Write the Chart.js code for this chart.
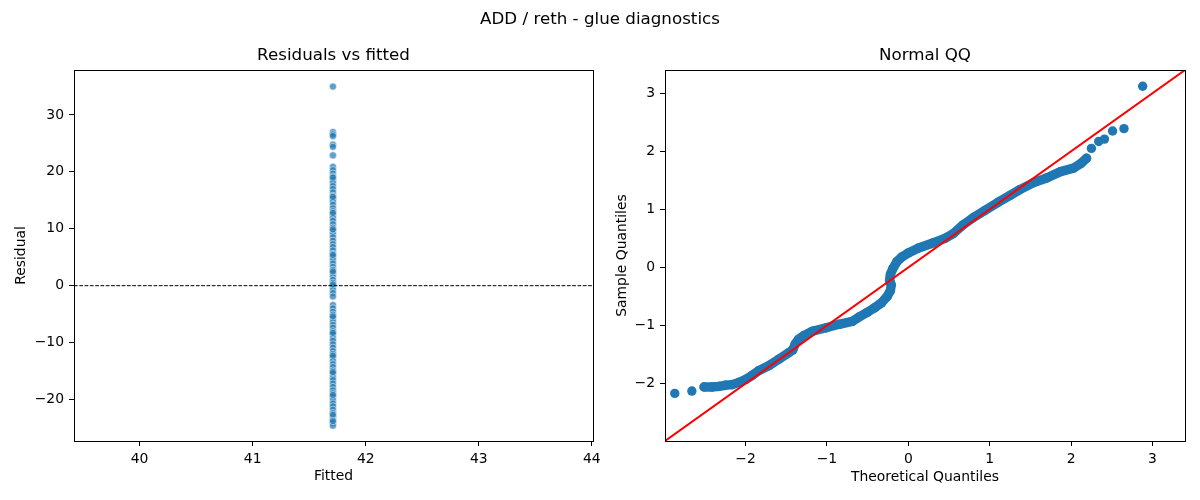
<!DOCTYPE html>
<html>
<head>
<meta charset="utf-8">
<script src="https://cdn.jsdelivr.net/npm/chart.js@4.4.1/dist/chart.umd.min.js"></script>
<style>
  body { margin: 0; background: #fff; }
  #wrap { position: relative; width: 1200px; height: 500px; font-family: "DejaVu Sans", sans-serif; }
  #suptitle { position: absolute; left: 0; top: 8px; width: 1200px; text-align: center; font-size: 16.7px; line-height: 20px; color: #000; }
  #left { position: absolute; left: 0; top: 0; }
  #right { position: absolute; left: 600px; top: 0; }
</style>
</head>
<body>
<div id="wrap">
  <canvas id="left" width="620" height="500"></canvas>
  <canvas id="right" width="600" height="500"></canvas>
  <div id="suptitle">ADD / reth - glue diagnostics</div>
</div>
<script>
// Residuals vs fitted: every row has the same fitted value
const fittedValue = 41.71;
const residuals = [
    35.0, 27.0, 26.6, 26.3, 24.8, 24.4, 22.9, 20.9, 20.3, 19.7, 19.2, 18.6, 18.1, 17.5, 17.0, 16.4,
    15.8, 15.3, 14.8, 14.2, 13.6, 13.1, 12.5, 12.0, 11.4, 10.8, 10.2, 9.6, 9.1, 8.5, 7.9, 7.3, 6.8,
    6.2, 5.6, 5.1, 4.5, 3.9, 3.3, 2.8, 2.2, 1.6, 1.0, 0.5, -0.1, -0.7, -1.3, -1.9,
    -3.4, -4.0, -4.6, -5.1, -5.7, -6.3, -6.9, -7.4, -8.0, -8.6, -9.2, -9.7, -10.3, -10.9, -11.5,
    -12.0, -12.6, -13.2, -13.8, -14.3, -14.9, -15.5, -16.1, -16.6, -17.2, -17.8, -18.4, -18.9,
    -19.5, -20.1, -20.7, -21.2, -21.8, -22.4, -23.0, -23.5, -24.1, -24.6,
    19.0, 15.6, 12.8, 9.9, 5.4, 2.5, 0.2, -5.4, -8.3, -12.3, -15.2, -19.2, -22.7, -23.8
];
const fittedRange = [39.42, 44.01];
const residualRange = [-27.3, 37.9];
const zeroLevel = 0;

// Normal QQ (theoretical vs sample quantiles)
const theoretical = [
    -2.87, -2.66, -2.51, -2.41, -2.33, -2.25, -2.17, -2.08, -2.00, -1.92, -1.84, -1.71, -1.59,
    -1.47, -1.42, -1.39, -1.35, -1.28, -1.18, -1.01, -0.85, -0.69, -0.60, -0.50, -0.42, -0.33,
    -0.26, -0.22, -0.21, -0.23, -0.22, -0.19, -0.14, -0.08, 0.00, 0.12, 0.30, 0.45, 0.55, 0.67,
    0.80, 0.94, 1.10, 1.25, 1.37, 1.54, 1.70, 1.87, 2.03, 2.12, 2.19,
    2.25, 2.34, 2.41, 2.51, 2.65, 2.88
];
const sample = [
    -2.17, -2.13, -2.06, -2.06, -2.05, -2.03, -2.02, -1.98, -1.93, -1.86, -1.78, -1.69, -1.58,
    -1.47, -1.42, -1.32, -1.24, -1.17, -1.10, -1.04, -0.98, -0.93, -0.85, -0.77, -0.70, -0.61,
    -0.50, -0.40, -0.30, -0.22, -0.12, -0.02, 0.10, 0.18, 0.25, 0.33, 0.42, 0.50, 0.58, 0.73,
    0.86, 0.98, 1.12, 1.24, 1.34, 1.46, 1.54, 1.65, 1.71, 1.79, 1.88,
    2.05, 2.17, 2.21, 2.35, 2.39, 3.12
];
const qqRange = [-2.99, 3.40];
// how many points at each end stand apart from the dense band
const looseLow = 2;
const looseHigh = 6;

const mplBlue = '#1f77b4';
Chart.defaults.font.family = '"DejaVu Sans", sans-serif';
Chart.defaults.color = '#000';

function minusSign(v) {
    return String(v).replace('-', '\u2212');
}

// full box round the plot area, like matplotlib spines
const frame = {
    id: 'frame',
    afterDraw(chart) {
        const a = chart.chartArea;
        const c = chart.ctx;
        c.save();
        c.strokeStyle = '#000';
        c.lineWidth = 1;
        c.strokeRect(Math.round(a.left) + 0.5, Math.round(a.top) + 0.5,
            Math.round(a.right - a.left), Math.round(a.bottom - a.top));
        c.restore();
    }
};

function makeAxis(range, step, label, isX, titlePad, fitSize) {
    return {
        type: 'linear',
        min: range[0],
        max: range[1],
        border: { display: false },
        grid: { drawOnChartArea: false, drawTicks: true, tickLength: 5, color: '#000', lineWidth: 1 },
        ticks: { stepSize: step, includeBounds: false, padding: 5, font: { size: 13.9 }, callback: minusSign },
        title: {
            display: true,
            text: label,
            font: { size: 13.9 },
            padding: isX ? { top: 0, bottom: titlePad } : { top: titlePad, bottom: 0 }
        },
        afterFit: s => { if (isX) { s.height = fitSize; } else { s.width = fitSize; } }
    };
}

function titleOpts(text) {
    return {
        display: true,
        text: text,
        fullSize: false,
        font: { size: 16.7, weight: 'normal' },
        padding: { top: 46, bottom: 4 }
    };
}

// Residuals vs fitted
new Chart(document.getElementById('left').getContext('2d'), {
    type: 'scatter',
    data: {
        datasets: [{
            data: [{ x: fittedRange[0], y: zeroLevel }, { x: fittedRange[1], y: zeroLevel }],
            showLine: true,
            borderColor: '#000',
            borderWidth: 1,
            borderDash: [3.7, 1.6],
            pointRadius: 0
        }, {
            data: residuals.map(r => ({ x: fittedValue, y: r })),
            pointRadius: 3.6,
            pointBackgroundColor: 'rgba(31,119,180,0.7)',
            pointBorderColor: 'rgba(255,255,255,0.7)',
            pointBorderWidth: 0.75
        }]
    },
    options: {
        responsive: false,
        animation: false,
        layout: { padding: { left: 0, right: 27, top: 0, bottom: 0 } },
        plugins: {
            legend: { display: false },
            tooltip: { enabled: false },
            title: titleOpts('Residuals vs fitted')
        },
        scales: {
            x: makeAxis(fittedRange, 1, 'Fitted', true, 15, 59),
            y: makeAxis(residualRange, 10, 'Residual', false, 12.6, 74)
        }
    },
    plugins: [frame]
});

// Normal QQ
new Chart(document.getElementById('right').getContext('2d'), {
    type: 'scatter',
    data: {
        datasets: [{
            data: [{ x: qqRange[0], y: qqRange[0] }, { x: qqRange[1], y: qqRange[1] }],
            showLine: true,
            borderColor: '#ff0000',
            borderWidth: 2,
            pointRadius: 0
        }, {
            data: theoretical.map((t, i) => ({ x: t, y: sample[i] })),
            showLine: true,
            borderWidth: 9.4,
            borderCapStyle: 'round',
            borderJoinStyle: 'round',
            borderColor: mplBlue,
            segment: {
                // join only the crowded middle, keep the tail points apart
                borderColor: ctx => (ctx.p0DataIndex < looseLow || ctx.p1DataIndex >= theoretical.length - looseHigh)
                    ? 'rgba(0,0,0,0)' : mplBlue
            },
            pointRadius: 4.7,
            pointBackgroundColor: mplBlue,
            pointBorderWidth: 0
        }]
    },
    options: {
        responsive: false,
        animation: false,
        layout: { padding: { left: 0, right: 15, top: 0, bottom: 0 } },
        plugins: {
            legend: { display: false },
            tooltip: { enabled: false },
            title: titleOpts('Normal QQ')
        },
        scales: {
            x: makeAxis(qqRange, 1, 'Theoretical Quantiles', true, 14, 59),
            y: makeAxis(qqRange, 1, 'Sample Quantiles', false, 13.6, 65)
        }
    },
    plugins: [frame]
});
</script>
</body>
</html>
